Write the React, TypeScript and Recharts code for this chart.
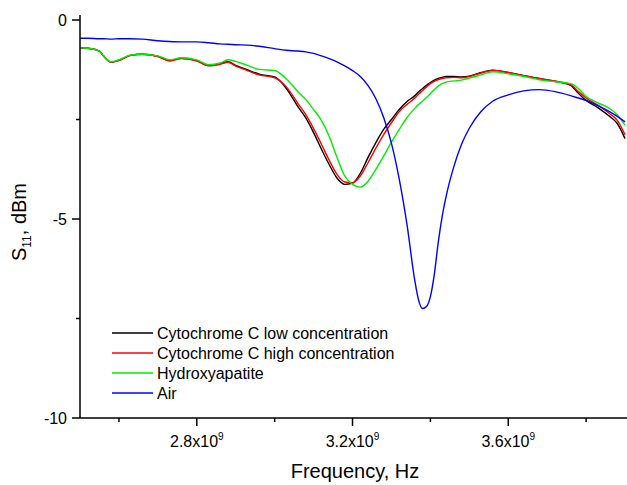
import { LineChart, Line, XAxis, YAxis } from "recharts";

// frequency grid, GHz
const freqGHz = [
  2.5, 2.52, 2.55, 2.56, 2.58, 2.6, 2.63, 2.66, 2.7, 2.73, 2.76, 2.8, 2.83, 2.86, 2.88,
  2.9, 2.93, 2.96, 3.0, 3.03, 3.06, 3.08, 3.1, 3.12, 3.14, 3.16, 3.18, 3.2, 3.22, 3.24,
  3.26, 3.28, 3.3, 3.32, 3.34, 3.36, 3.37, 3.38, 3.39, 3.4, 3.41, 3.42, 3.43, 3.44, 3.46,
  3.48, 3.5, 3.53, 3.56, 3.6, 3.64, 3.68, 3.72, 3.76, 3.78, 3.8, 3.83, 3.86, 3.88, 3.9,
];

const lowConc = [
  -0.7, -0.71, -0.78, -0.9, -1.06, -1.01, -0.89, -0.86, -0.91, -1.02, -0.96, -1.02, -1.14, -1.1, -1.05,
  -1.14, -1.25, -1.36, -1.43, -1.72, -2.18, -2.46, -2.83, -3.24, -3.63, -3.97, -4.13, -4.1, -3.85, -3.45,
  -3.08, -2.75, -2.5, -2.25, -2.05, -1.9, -1.8, -1.72, -1.64, -1.57, -1.51, -1.47, -1.44, -1.42, -1.42,
  -1.43, -1.41, -1.32, -1.26, -1.32, -1.4, -1.47, -1.54, -1.64, -1.84, -2.02, -2.2, -2.42, -2.6, -2.98,
];

const highConc = [
  -0.7, -0.71, -0.78, -0.9, -1.06, -1.01, -0.89, -0.86, -0.92, -1.03, -0.97, -1.03, -1.15, -1.11, -1.06,
  -1.16, -1.27, -1.38, -1.45, -1.68, -2.1, -2.38, -2.73, -3.12, -3.52, -3.88, -4.07, -4.09, -3.92, -3.58,
  -3.22, -2.88, -2.58, -2.3, -2.12, -1.96, -1.86, -1.77, -1.68, -1.6, -1.54, -1.5, -1.47, -1.45, -1.44,
  -1.45, -1.42, -1.33, -1.27, -1.32, -1.4, -1.47, -1.54, -1.62, -1.8, -1.96, -2.14, -2.35, -2.52, -2.88,
];

const hydroxyapatite = [
  -0.7, -0.71, -0.78, -0.9, -1.05, -1.0, -0.88, -0.86, -0.9, -1.0, -0.95, -1.0, -1.12, -1.08, -1.0,
  -1.04, -1.14, -1.24, -1.27, -1.48, -1.8, -2.0, -2.25, -2.52, -2.92, -3.45, -3.92, -4.13, -4.2, -4.05,
  -3.75, -3.42, -3.07, -2.75, -2.45, -2.22, -2.12, -2.04, -1.95, -1.85, -1.75, -1.66, -1.6, -1.56, -1.53,
  -1.51, -1.46, -1.38, -1.3, -1.35, -1.42, -1.5, -1.55, -1.6, -1.72, -1.92, -2.08, -2.22, -2.38, -2.65,
];

const air = [
  -0.46, -0.46, -0.47, -0.47, -0.48, -0.47, -0.47, -0.48, -0.52, -0.54, -0.55, -0.55, -0.57, -0.6, -0.61,
  -0.62, -0.63, -0.66, -0.72, -0.76, -0.78, -0.8, -0.84, -0.9, -0.97, -1.05, -1.15, -1.27, -1.42, -1.65,
  -1.98, -2.45, -3.1, -4.0, -5.15, -6.55, -7.05, -7.25, -7.2, -6.95, -6.4, -5.6, -4.95, -4.45, -3.69,
  -3.12, -2.72, -2.3, -2.04, -1.88, -1.78, -1.75, -1.8, -1.9, -1.96, -2.02, -2.15, -2.3, -2.42, -2.56,
];

const xTicks = [2.6e9, 2.8e9, 3.0e9, 3.2e9, 3.4e9, 3.6e9, 3.8e9];
const xMajor = [2.8e9, 3.2e9, 3.6e9];
const yTicks = [-10, -7.5, -5, -2.5, 0];
const yMajor = [-10, -5, 0];

const series = [
  { key: "low", name: "Cytochrome C low concentration", color: "#000000" },
  { key: "high", name: "Cytochrome C high concentration", color: "#ff0000" },
  { key: "hydroxy", name: "Hydroxyapatite", color: "#00ee00" },
  { key: "air", name: "Air", color: "#0000ff" },
];

const data = freqGHz.map((f, i) => ({
  f: f * 1e9,
  low: lowConc[i],
  high: highConc[i],
  hydroxy: hydroxyapatite[i],
  air: air[i],
}));

const FONT = "'Liberation Sans', Arial, sans-serif";

const XTick = (props: any) => {
  const { x, y, payload } = props;
  const major = xMajor.includes(payload.value);
  return (
    <g>
      <line x1={x} y1={y} x2={x} y2={y + (major ? 8 : 4)} stroke="#000" strokeWidth={1.5} />
      {major && (
        <text x={x} y={y + 29} textAnchor="middle" fontSize={16} fontFamily={FONT} fill="#000">
          {(payload.value / 1e9).toFixed(1)}x10
          <tspan dy={-7} fontSize={10}>9</tspan>
        </text>
      )}
    </g>
  );
};

const YTick = (props: any) => {
  const { x, y, payload } = props;
  const major = yMajor.includes(payload.value);
  return (
    <g>
      <line x1={x} y1={y} x2={x - (major ? 8 : 4)} y2={y} stroke="#000" strokeWidth={1.5} />
      {major && (
        <text x={x - 13} y={y + 6} textAnchor="end" fontSize={16} fontFamily={FONT} fill="#000">
          {payload.value}
        </text>
      )}
    </g>
  );
};

export default function App() {
  return (
    <div style={{ position: "absolute", left: 0, top: 0, width: 627, height: 485, background: "#fff" }}>
      <LineChart width={627} height={485} data={data} margin={{ top: 15, right: 0, bottom: 0, left: 0 }}>
        <XAxis
          dataKey="f"
          type="number"
          domain={[2.5e9, 3.905e9]}
          allowDataOverflow
          ticks={xTicks}
          tick={<XTick />}
          tickLine={false}
          tickSize={0}
          tickMargin={0}
          height={67}
          axisLine={{ stroke: "#000", strokeWidth: 1.5 }}
          interval={0}
        />
        <YAxis
          type="number"
          domain={[-10, 0.126]}
          allowDataOverflow
          ticks={yTicks}
          tick={<YTick />}
          tickLine={false}
          tickSize={0}
          tickMargin={0}
          width={80}
          axisLine={{ stroke: "#000", strokeWidth: 1.5 }}
          interval={0}
        />
        {series.map((s) => (
          <Line
            key={s.key}
            dataKey={s.key}
            name={s.name}
            type="monotone"
            stroke={s.color}
            strokeWidth={1.4}
            dot={false}
            isAnimationActive={false}
          />
        ))}
      </LineChart>
      <svg width={627} height={485} style={{ position: "absolute", left: 0, top: 0, pointerEvents: "none" }}>
        <text x={0} y={0} transform="translate(26,222) rotate(-90)" textAnchor="middle" fontSize={20} fontFamily={FONT} fill="#000">
          S<tspan dy={5} fontSize={12}>11</tspan>
          <tspan dy={-5}>, dBm</tspan>
        </text>
        <text x={355} y={478} textAnchor="middle" fontSize={20} fontFamily={FONT} fill="#000">
          Frequency, Hz
        </text>
        {series.map((s, i) => (
          <g key={s.key}>
            <line x1={112} x2={153} y1={333 + i * 20} y2={333 + i * 20} stroke={s.color} strokeWidth={1.4} />
            <text x={157} y={339 + i * 20} fontSize={16} fontFamily={FONT} fill="#000">
              {s.name}
            </text>
          </g>
        ))}
      </svg>
    </div>
  );
}
